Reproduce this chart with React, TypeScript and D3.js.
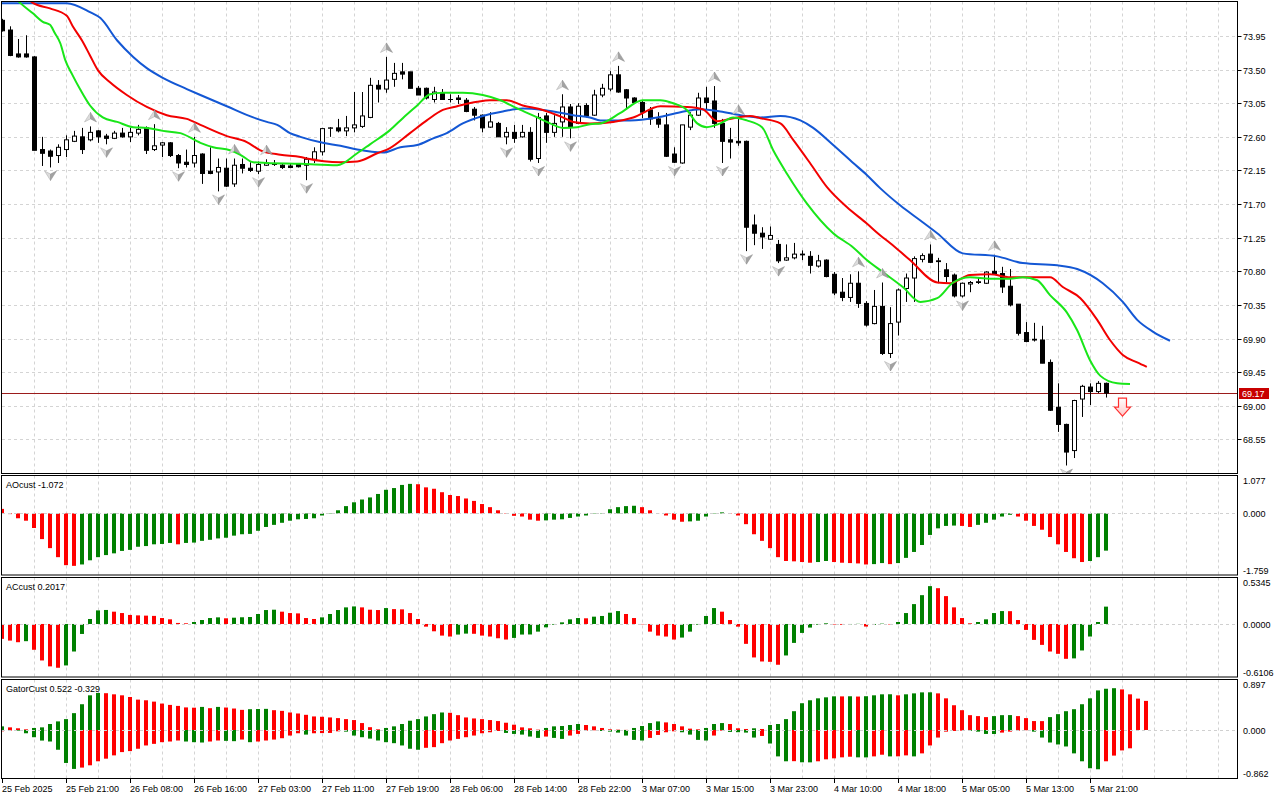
import * as d3 from 'd3';
import React from 'react';

// Bar time labels, one every 8 hourly bars.
const timeLabels = [
    '25 Feb 2025', '25 Feb 21:00', '26 Feb 08:00', '26 Feb 16:00', '27 Feb 03:00', '27 Feb 11:00',
    '27 Feb 19:00', '28 Feb 06:00', '28 Feb 14:00', '28 Feb 22:00', '3 Mar 07:00', '3 Mar 15:00',
    '3 Mar 23:00', '4 Mar 10:00', '4 Mar 18:00', '5 Mar 05:00', '5 Mar 13:00', '5 Mar 21:00',
];

const priceTicks = [73.95, 73.5, 73.05, 72.6, 72.15, 71.7, 71.25, 70.8, 70.35, 69.9, 69.45, 69.0, 68.55];

// open, high, low, close
const candles: [number, number, number, number][] = [
    [74.16, 74.18, 74.01, 74.02], [74.03, 74.08, 73.68, 73.69], [73.71, 73.91, 73.66, 73.67], [73.71, 73.96, 73.66, 73.67],
    [73.67, 73.68, 72.42, 72.42], [72.43, 72.6, 72.21, 72.38], [72.41, 72.43, 72.19, 72.34], [72.35, 72.5, 72.25, 72.46],
    [72.43, 72.62, 72.33, 72.56], [72.54, 72.68, 72.53, 72.61], [72.6, 72.72, 72.37, 72.43], [72.56, 72.74, 72.54, 72.66],
    [72.68, 72.69, 72.52, 72.6], [72.61, 72.64, 72.5, 72.58], [72.58, 72.68, 72.57, 72.65], [72.65, 72.72, 72.59, 72.6],
    [72.6, 72.72, 72.53, 72.66], [72.65, 72.76, 72.62, 72.7], [72.72, 72.74, 72.37, 72.42], [72.43, 72.77, 72.41, 72.48],
    [72.49, 72.53, 72.33, 72.52], [72.52, 72.53, 72.33, 72.35], [72.35, 72.37, 72.18, 72.25], [72.26, 72.43, 72.19, 72.23],
    [72.25, 72.6, 72.19, 72.35], [72.37, 72.38, 71.97, 72.11], [72.14, 72.46, 72.1, 72.11], [72.13, 72.31, 71.87, 72.19],
    [72.18, 72.31, 71.93, 71.94], [71.97, 72.31, 71.93, 72.22], [72.23, 72.31, 72.11, 72.18], [72.18, 72.26, 72.13, 72.15],
    [72.14, 72.27, 72.1, 72.23], [72.22, 72.3, 72.21, 72.25], [72.23, 72.29, 72.21, 72.24], [72.22, 72.25, 72.17, 72.19],
    [72.21, 72.25, 72.18, 72.19], [72.23, 72.25, 72.19, 72.2], [72.22, 72.33, 72.02, 72.3], [72.3, 72.46, 72.25, 72.4],
    [72.4, 72.72, 72.35, 72.71], [72.715, 72.73, 72.6, 72.72], [72.72, 72.84, 72.66, 72.68], [72.68, 72.88, 72.61, 72.72],
    [72.72, 73.2, 72.66, 72.76], [72.74, 73.2, 72.72, 72.88], [72.86, 73.39, 72.85, 73.29], [73.29, 73.36, 73.06, 73.24],
    [73.24, 73.67, 73.19, 73.36], [73.37, 73.59, 73.27, 73.45], [73.47, 73.59, 73.37, 73.44], [73.47, 73.47, 73.25, 73.25],
    [73.25, 73.28, 73.16, 73.16], [73.25, 73.26, 73.1, 73.12], [73.1, 73.27, 73.06, 73.2], [73.19, 73.24, 73.1, 73.1],
    [73.1, 73.17, 73.06, 73.1], [73.12, 73.16, 73.04, 73.1], [73.09, 73.12, 72.93, 72.94], [72.97, 73.0, 72.82, 72.89],
    [72.89, 72.9, 72.66, 72.72], [72.73, 72.93, 72.72, 72.8], [72.78, 72.8, 72.6, 72.6], [72.6, 72.73, 72.5, 72.66],
    [72.66, 72.76, 72.52, 72.58], [72.6, 72.76, 72.59, 72.66], [72.66, 72.73, 72.27, 72.3], [72.31, 72.92, 72.25, 72.86],
    [72.88, 72.92, 72.52, 72.66], [72.66, 72.89, 72.6, 72.78], [72.8, 73.17, 72.6, 73.0], [73.0, 73.04, 72.58, 72.73],
    [72.78, 73.05, 72.77, 73.01], [73.02, 73.05, 72.86, 72.88], [72.89, 73.23, 72.88, 73.16], [73.16, 73.31, 73.13, 73.25],
    [73.24, 73.48, 73.21, 73.43], [73.43, 73.55, 73.19, 73.2], [73.23, 73.24, 72.98, 73.12], [73.12, 73.13, 73.06, 73.06],
    [73.06, 73.09, 72.85, 72.93], [72.96, 73.0, 72.76, 72.84], [72.84, 72.93, 72.72, 72.77], [72.76, 72.92, 72.33, 72.34],
    [72.37, 72.46, 72.25, 72.26], [72.25, 72.76, 72.24, 72.76], [72.73, 72.93, 72.69, 72.89], [72.89, 73.19, 72.88, 73.12],
    [73.12, 73.27, 72.96, 73.06], [73.08, 73.28, 72.72, 72.78], [72.78, 72.84, 72.25, 72.54], [72.56, 72.72, 72.31, 72.53],
    [72.54, 72.84, 72.48, 72.52], [72.54, 72.55, 71.07, 71.39], [71.42, 71.56, 71.15, 71.31], [71.31, 71.39, 71.1, 71.26],
    [71.23, 71.4, 71.22, 71.28], [71.16, 71.22, 70.91, 70.94], [70.95, 71.16, 70.94, 70.98], [70.98, 71.18, 70.96, 71.03],
    [71.03, 71.08, 70.95, 71.02], [71.0, 71.07, 70.77, 70.88], [70.87, 71.02, 70.85, 70.94], [70.95, 70.96, 70.72, 70.73],
    [70.76, 70.79, 70.48, 70.51], [70.52, 70.71, 70.4, 70.45], [70.45, 70.76, 70.39, 70.64], [70.64, 70.8, 70.31, 70.37],
    [70.37, 70.4, 70.06, 70.08], [70.1, 70.55, 70.09, 70.33], [70.33, 70.65, 69.68, 69.7], [69.7, 70.32, 69.64, 70.1],
    [70.12, 70.57, 69.94, 70.55], [70.57, 70.77, 70.39, 70.71], [70.71, 71.0, 70.39, 70.97], [70.96, 71.04, 70.92, 71.01],
    [71.03, 71.16, 70.91, 70.92], [70.94, 70.98, 70.64, 70.93], [70.82, 70.91, 70.65, 70.73], [70.75, 70.77, 70.45, 70.47],
    [70.47, 70.65, 70.45, 70.64], [70.63, 70.67, 70.52, 70.65], [70.65, 70.72, 70.63, 70.66], [70.64, 70.8, 70.63, 70.79],
    [70.8, 71.02, 70.77, 70.77], [70.77, 70.86, 70.51, 70.59], [70.6, 70.83, 70.33, 70.35], [70.36, 70.36, 69.94, 69.97],
    [69.98, 70.12, 69.85, 69.86], [69.89, 70.11, 69.86, 69.88], [69.88, 70.07, 69.57, 69.57], [69.58, 69.62, 68.93, 68.94],
    [68.98, 69.3, 68.65, 68.75], [68.75, 68.76, 68.2, 68.38], [68.4, 69.08, 68.3, 69.07], [69.09, 69.28, 68.85, 69.26],
    [69.25, 69.3, 69.01, 69.19], [69.19, 69.33, 69.17, 69.3], [69.3, 69.31, 69.11, 69.17],
];

const fractalUp = [11, 19, 24, 29, 33, 48, 70, 77, 89, 92, 107, 110, 116, 124];
const fractalDown = [6, 13, 22, 27, 32, 38, 63, 67, 71, 84, 90, 93, 97, 111, 120, 133];

// Alligator lines as [bar, price], already shifted forward.
const jaw: [number, number][] = [
    [-0.3, 74.39], [7.3, 74.39], [8.1, 74.39], [11, 74.27], [12.3, 74.19], [14.4, 73.89], [16.4, 73.67], [18.1, 73.52],
    [20.1, 73.39], [23.1, 73.24], [24.8, 73.16], [28.1, 73.01], [31.4, 72.86], [33.1, 72.8], [34.4, 72.76], [36, 72.65],
    [37.3, 72.6], [40.1, 72.52], [42.3, 72.48], [44.4, 72.43], [47.6, 72.39], [49.8, 72.46], [51.9, 72.49], [53.9, 72.58],
    [55.6, 72.65], [57.6, 72.78], [60.1, 72.88], [62.6, 72.94], [65.1, 72.98], [67.6, 72.96], [69.4, 72.93], [71.4, 72.89],
    [73.5, 72.86], [74.8, 72.82], [78.5, 72.82], [81.9, 72.86], [84.8, 72.93], [87.3, 72.97], [89.8, 72.94], [92.3, 72.89],
    [94.8, 72.86], [97.3, 72.88], [99.8, 72.82], [101.4, 72.72], [103.9, 72.49], [106.4, 72.25], [108.1, 72.09],
    [109.8, 71.91], [112.3, 71.68], [114.8, 71.48], [116.9, 71.31], [120.1, 71.04], [124.4, 71.0], [127.6, 70.91],
    [131.9, 70.88], [134.4, 70.83], [137.6, 70.64], [140.1, 70.39], [141.9, 70.15], [143.9, 69.99], [146, 69.87],
];
const teeth: [number, number][] = [
    [2, 74.6], [3.9, 74.39], [6, 74.32], [8.1, 74.22], [8.9, 74.07], [10, 73.89], [11, 73.69], [12, 73.49], [13.5, 73.33],
    [15.6, 73.16], [18.1, 73.0], [20.6, 72.89], [23.1, 72.84], [24.8, 72.76], [28.1, 72.61], [30.6, 72.53], [32.3, 72.42],
    [34.8, 72.36], [37.3, 72.33], [38.1, 72.31], [42.3, 72.26], [44.4, 72.27], [46.9, 72.38], [48.5, 72.45], [51, 72.65],
    [53.1, 72.82], [55.1, 72.96], [56.9, 73.01], [59.4, 73.07], [61, 73.09], [63.1, 73.09], [65.1, 73.02], [67.6, 72.96],
    [70.1, 72.86], [71.4, 72.8], [73.5, 72.78], [76.4, 72.8], [78.9, 72.86], [82.3, 73.01], [85.6, 73.0], [87.6, 72.97],
    [89.4, 72.81], [91, 72.84], [93.5, 72.88], [94.8, 72.85], [97.3, 72.78], [98.9, 72.56], [101, 72.25], [103.1, 71.93],
    [105.6, 71.66], [108.1, 71.44], [109.8, 71.28], [111, 71.18], [113.5, 70.95], [116.9, 70.65], [118.5, 70.64],
    [121, 70.75], [123.5, 70.76], [126, 70.72], [131, 70.72], [132.6, 70.59], [134.8, 70.44], [136.9, 70.15],
    [138.5, 69.88], [140.1, 69.68], [141.9, 69.58], [143.1, 69.52],
];
const lips: [number, number][] = [
    [0.5, 74.6], [2.3, 74.39], [3.9, 74.25], [5.1, 74.14], [6, 74.1], [6.6, 73.99], [7.3, 73.85], [7.9, 73.63],
    [8.8, 73.43], [9.8, 73.23], [11, 73.02], [12.6, 72.86], [14.4, 72.8], [16.4, 72.73], [18.1, 72.72], [20.1, 72.68],
    [22.3, 72.65], [24.8, 72.52], [26.4, 72.46], [28.5, 72.42], [29.8, 72.36], [31.4, 72.26], [33.1, 72.25], [37.3, 72.24],
    [41.9, 72.22], [44.4, 72.38], [46, 72.5], [48.5, 72.69], [50.1, 72.85], [51.9, 73.02], [53.5, 73.17], [55.1, 73.19],
    [57.6, 73.19], [60.1, 73.16], [62.3, 73.09], [64.4, 72.98], [66.9, 72.86], [68.5, 72.78], [70.1, 72.72], [71.9, 72.73],
    [73.5, 72.77], [74.8, 72.78], [77.3, 72.92], [80.1, 73.09], [82.3, 73.09], [83.9, 73.05], [85.6, 72.96], [86.9, 72.78],
    [88.1, 72.73], [89.8, 72.78], [91.4, 72.86], [93.1, 72.82], [95, 72.73], [96.4, 72.42], [98.1, 72.11], [100.6, 71.71],
    [103.9, 71.31], [106.4, 71.12], [108.1, 70.95], [110.1, 70.79], [112.6, 70.59], [114.8, 70.39], [116.9, 70.44],
    [118.9, 70.65], [121, 70.72], [123.5, 70.7], [126, 70.7], [127.6, 70.72], [129.4, 70.68], [131, 70.48], [133.1, 70.25],
    [134.4, 70.01], [136, 69.61], [137.3, 69.4], [139.4, 69.3], [141, 69.29],
];

const aoValues = [
    0.13, -0.02, -0.14, -0.21, -0.42, -0.74, -1.0, -1.26, -1.49, -1.51,
    -1.47, -1.35, -1.26, -1.2, -1.15, -1.08, -1.05, -0.96, -0.94, -0.89,
    -0.88, -0.85, -0.89, -0.85, -0.84, -0.79, -0.76, -0.72, -0.7, -0.64,
    -0.6, -0.59, -0.5, -0.39, -0.33, -0.27, -0.21, -0.17, -0.16, -0.14,
    -0.06, -0.01, 0.09, 0.21, 0.32, 0.4, 0.46, 0.56, 0.68, 0.73,
    0.82, 0.85, 0.84, 0.75, 0.71, 0.61, 0.53, 0.5, 0.43, 0.36,
    0.27, 0.18, 0.09, 0.01, -0.07, -0.09, -0.18, -0.21, -0.2, -0.18,
    -0.17, -0.13, -0.09, -0.06, -0.01, 0.01, 0.12, 0.18, 0.21, 0.22,
    0.18, 0.09, 0.003, -0.06, -0.18, -0.24, -0.23, -0.21, -0.09, 0.01,
    0.03, 0.01, -0.06, -0.31, -0.6, -0.79, -1.0, -1.26, -1.37, -1.38,
    -1.4, -1.42, -1.4, -1.37, -1.4, -1.42, -1.43, -1.44, -1.47, -1.46,
    -1.43, -1.46, -1.43, -1.28, -1.11, -0.91, -0.62, -0.43, -0.36, -0.35,
    -0.36, -0.39, -0.33, -0.27, -0.18, -0.09, -0.04, -0.09, -0.21, -0.36,
    -0.47, -0.68, -0.89, -1.11, -1.29, -1.4, -1.37, -1.26, -1.072,
];

const acValues = [
    -0.173, -0.193, -0.212, -0.2, -0.3, -0.424, -0.493, -0.509, -0.482, -0.32,
    -0.116, 0.058, 0.158, 0.163, 0.143, 0.127, 0.105, 0.1, 0.097, 0.094,
    0.069, 0.054, 0.012, 0.008, 0.023, 0.046, 0.069, 0.077, 0.066, 0.073,
    0.078, 0.081, 0.116, 0.162, 0.166, 0.143, 0.127, 0.123, 0.069, 0.058,
    0.077, 0.116, 0.162, 0.193, 0.204, 0.193, 0.166, 0.162, 0.185, 0.173,
    0.17, 0.127, 0.058, -0.031, -0.085, -0.135, -0.146, -0.123, -0.112, -0.114,
    -0.135, -0.146, -0.166, -0.181, -0.162, -0.123, -0.122, -0.089, -0.039, -0.008,
    0.019, 0.054, 0.069, 0.066, 0.085, 0.093, 0.131, 0.15, 0.116, 0.069,
    -0.004, -0.089, -0.135, -0.146, -0.181, -0.158, -0.089, -0.008, 0.093, 0.185,
    0.143, 0.046, -0.031, -0.231, -0.389, -0.436, -0.44, -0.474, -0.366, -0.22,
    -0.104, -0.042, -0.008, 0.008, -0.006, -0.009, -0.004, 0.002, -0.03, -0.01,
    0.004, -0.005, 0.023, 0.127, 0.231, 0.335, 0.44, 0.416, 0.324, 0.193,
    0.069, 0.008, 0.023, 0.054, 0.127, 0.15, 0.149, 0.046, -0.069, -0.185,
    -0.243, -0.32, -0.347, -0.405, -0.4, -0.308, -0.146, 0.023, 0.2017,
];

const gatorUpper = [
    0.065, 0.047, 0.03, 0.012, 0.036, 0.047, 0.107, 0.154, 0.195, 0.302,
    0.462, 0.622, 0.665, 0.66, 0.64, 0.622, 0.592, 0.545, 0.533, 0.509,
    0.474, 0.45, 0.432, 0.405, 0.4, 0.414, 0.391, 0.414, 0.403, 0.385,
    0.361, 0.373, 0.376, 0.379, 0.355, 0.343, 0.314, 0.296, 0.272, 0.243,
    0.237, 0.225, 0.213, 0.195, 0.178, 0.124, 0.05, 0.012, 0.036, 0.065,
    0.107, 0.166, 0.195, 0.243, 0.284, 0.314, 0.308, 0.266, 0.225, 0.207,
    0.195, 0.178, 0.16, 0.13, 0.095, 0.047, 0.03, 0.006, 0.036, 0.065,
    0.071, 0.089, 0.107, 0.089, 0.065, 0.036, 0.012, 0.006, 0.002, 0.036,
    0.071, 0.124, 0.154, 0.136, 0.107, 0.065, 0.024, 0.012, 0.036, 0.107,
    0.124, 0.107, 0.03, 0.018, 0.03, 0.018, 0.089, 0.107, 0.195, 0.337,
    0.48, 0.533, 0.568, 0.586, 0.604, 0.603, 0.605, 0.6, 0.606, 0.622,
    0.64, 0.641, 0.622, 0.64, 0.657, 0.675, 0.676, 0.657, 0.568, 0.444,
    0.355, 0.266, 0.249, 0.231, 0.249, 0.266, 0.267, 0.249, 0.213, 0.16,
    0.159, 0.231, 0.284, 0.337, 0.373, 0.462, 0.568, 0.71, 0.74, 0.75,
    0.728, 0.64, 0.563, 0.522,
];

const gatorLower = [
    -0.024, -0.01, -0.012, -0.059, -0.13, -0.19, -0.207, -0.355, -0.592, -0.699,
    -0.675, -0.634, -0.562, -0.515, -0.456, -0.397, -0.379, -0.337, -0.278, -0.249,
    -0.219, -0.207, -0.189, -0.207, -0.219, -0.225, -0.207, -0.189, -0.195, -0.201,
    -0.172, -0.219, -0.207, -0.189, -0.172, -0.148, -0.1, -0.059, -0.083, -0.059,
    -0.056, -0.053, -0.024, -0.03, -0.1, -0.13, -0.155, -0.189, -0.219, -0.237,
    -0.278, -0.337, -0.355, -0.32, -0.308, -0.237, -0.189, -0.16, -0.13, -0.1,
    -0.059, -0.041, -0.018, -0.053, -0.071, -0.083, -0.118, -0.142, -0.118, -0.142,
    -0.16, -0.1, -0.071, -0.012, -0.006, -0.018, -0.03, -0.047, -0.1, -0.178,
    -0.189, -0.142, -0.089, -0.041, -0.024, -0.041, -0.083, -0.178, -0.189, -0.1,
    -0.012, -0.035, -0.04, -0.047, -0.136, -0.107, -0.243, -0.474, -0.562, -0.56,
    -0.58, -0.581, -0.562, -0.527, -0.509, -0.491, -0.48, -0.491, -0.492, -0.474,
    -0.444, -0.474, -0.473, -0.456, -0.474, -0.42, -0.278, -0.136, -0.03, -0.018,
    -0.012, -0.015, -0.03, -0.071, -0.072, -0.047, -0.03, -0.012, -0.004, -0.03,
    -0.136, -0.225, -0.26, -0.296, -0.42, -0.562, -0.687, -0.705, -0.562, -0.46,
    -0.367, -0.329,
];

const lastPrice = 69.17;
const sellSignalBar = 140;

const GREEN = '#008000';
const RED = '#ff0000';
const GRID = '#d4d4d4';
const RIGHT = 1237.5;

const App = (): React.ReactElement => {
    const chartRef = React.useRef<SVGSVGElement>(null);

    React.useEffect(() => {
        const svg = d3.select(chartRef.current);
        svg.selectAll('*').remove();
        svg.attr('width', 1280).attr('height', 800)
            .style('font-family', '"Liberation Sans", Arial, sans-serif')
            .style('font-size', '9px');

        svg.append('rect').attr('width', 1280).attr('height', 800).attr('fill', '#fff');

        const xScale = d3.scaleLinear().domain([0, 100]).range([2, 802]);
        const yPrice = d3.scaleLinear().domain([68.093, 74.412]).range([473.5, 1.5]);

        const panels = [
            { top: 1.5, bottom: 473.5 },
            { top: 475.5, bottom: 575, domain: [-1.759, 1.077], label: 'AOcust -1.072', ticks: ['1.077', '0.000', '-1.759'] },
            { top: 577.5, bottom: 677, domain: [-0.6106, 0.5345], label: 'ACcust 0.2017', ticks: ['0.5345', '0.0000', '-0.6106'] },
            { top: 679.5, bottom: 778.5, domain: [-0.862, 0.897], label: 'GatorCust 0.522 -0.329', ticks: ['0.897', '0.000', '-0.862'] },
        ];

        const defs = svg.append('defs');
        panels.forEach((p, k) => {
            defs.append('clipPath').attr('id', 'clip' + k).append('rect')
                .attr('x', 2).attr('y', p.top + 0.5).attr('width', RIGHT - 2.5).attr('height', p.bottom - p.top - 1);
        });
        const gradL = defs.append('linearGradient').attr('id', 'fracL').attr('x1', 0).attr('x2', 1);
        gradL.append('stop').attr('offset', '0%').attr('stop-color', '#e6e6e6');
        gradL.append('stop').attr('offset', '100%').attr('stop-color', '#b4b4b4');
        const gradS = defs.append('linearGradient').attr('id', 'sellG').attr('x1', 0).attr('x2', 0).attr('y1', 0).attr('y2', 1);
        gradS.append('stop').attr('offset', '0%').attr('stop-color', '#ffffff');
        gradS.append('stop').attr('offset', '100%').attr('stop-color', '#ffc8c8');

        // Vertical grid, every 4 bars, in every panel.
        const gridBars = d3.range(4, 153, 4);
        panels.forEach((p) => {
            svg.append('g').selectAll('line').data(gridBars).enter().append('line')
                .attr('x1', (d) => xScale(d) + 0.5).attr('x2', (d) => xScale(d) + 0.5)
                .attr('y1', p.top).attr('y2', p.bottom)
                .attr('stroke', GRID).attr('stroke-dasharray', '3,3');
        });

        // Horizontal grid on price chart.
        svg.append('g').selectAll('line').data(priceTicks).enter().append('line')
            .attr('x1', 2).attr('x2', RIGHT)
            .attr('y1', (d) => Math.round(yPrice(d)) + 0.5).attr('y2', (d) => Math.round(yPrice(d)) + 0.5)
            .attr('stroke', GRID).attr('stroke-dasharray', '3,3');

        // Price chart
        const main = svg.append('g').attr('clip-path', 'url(#clip0)');

        main.append('line').attr('x1', 2).attr('x2', RIGHT)
            .attr('y1', Math.round(yPrice(lastPrice)) + 0.5).attr('y2', Math.round(yPrice(lastPrice)) + 0.5)
            .attr('stroke', '#9b1c1c');

        main.selectAll('line.wick').data(candles).enter().append('line')
            .attr('class', 'wick')
            .attr('x1', (d, i) => xScale(i) + 0.5).attr('x2', (d, i) => xScale(i) + 0.5)
            .attr('y1', (d) => yPrice(d[1])).attr('y2', (d) => yPrice(d[2]))
            .attr('stroke', '#000');

        main.selectAll('rect.body').data(candles).enter().append('rect')
            .attr('class', 'body')
            .attr('x', (d, i) => xScale(i) - 1.5).attr('width', 4)
            .attr('y', (d) => yPrice(Math.max(d[0], d[3])))
            .attr('height', (d) => Math.max(0.01, Math.abs(yPrice(d[0]) - yPrice(d[3]))))
            .attr('fill', (d) => (d[3] >= d[0] ? '#fff' : '#000'))
            .attr('stroke', '#000');

        const line = d3.line<[number, number]>()
            .x((d) => xScale(d[0]))
            .y((d) => yPrice(d[1]))
            .curve(d3.curveMonotoneX);
        const lines: [[number, number][], string][] = [[jaw, '#1357d4'], [teeth, '#f20000'], [lips, '#19e619']];
        lines.forEach(([data, color]) => {
            main.append('path').attr('d', line(data)).attr('fill', 'none')
                .attr('stroke', color).attr('stroke-width', 2).attr('stroke-linejoin', 'round');
        });

        // Fractal markers
        const fracUp = main.selectAll('g.fu').data(fractalUp).enter().append('g')
            .attr('transform', (i) => `translate(${xScale(i) + 0.5},${yPrice(candles[i][1]) - 9})`);
        fracUp.append('path').attr('d', 'M0,-5 L-6,4.5 L0,1.5 Z').attr('fill', '#dcdcdc').attr('stroke', '#a8a8a8').attr('stroke-width', 0.5);
        fracUp.append('path').attr('d', 'M0,-5 L6,4.5 L0,1.5 Z').attr('fill', '#a2a2a2').attr('stroke', '#8e8e8e').attr('stroke-width', 0.5);

        const fracDown = main.selectAll('g.fd').data(fractalDown).enter().append('g')
            .attr('transform', (i) => `translate(${xScale(i) + 0.5},${yPrice(candles[i][2]) + 8})`);
        fracDown.append('path').attr('d', 'M0,5 L-6,-4.5 L0,-1.5 Z').attr('fill', '#dcdcdc').attr('stroke', '#a8a8a8').attr('stroke-width', 0.5);
        fracDown.append('path').attr('d', 'M0,5 L6,-4.5 L0,-1.5 Z').attr('fill', '#a2a2a2').attr('stroke', '#8e8e8e').attr('stroke-width', 0.5);

        // Sell signal arrow
        main.append('path')
            .attr('transform', `translate(${xScale(sellSignalBar) + 0.5},${yPrice(lastPrice) + 5})`)
            .attr('d', 'M-4,0 H4 V9 H8 L0,18 L-8,9 H-4 Z')
            .attr('fill', 'url(#sellG)').attr('stroke', '#ff3030').attr('stroke-width', 1.2);

        // Histogram panels
        const histo = (k: number, series: number[], firstColor: string, useAbs: boolean) => {
            const p = panels[k];
            const y = d3.scaleLinear().domain(p.domain as number[]).range([p.bottom - 0.5, p.top + 0.5]);
            const g = svg.append('g').attr('clip-path', `url(#clip${k})`);
            g.selectAll('rect').data(series).enter().append('rect')
                .attr('x', (d, i) => xScale(i) - 2).attr('width', 4)
                .attr('y', (d) => Math.min(y(0), y(d)))
                .attr('height', (d) => Math.abs(y(d) - y(0)))
                .attr('fill', (d, i) => {
                    if (i === 0) return firstColor;
                    const cur = useAbs ? Math.abs(d) : d;
                    const prev = useAbs ? Math.abs(series[i - 1]) : series[i - 1];
                    return cur > prev ? GREEN : RED;
                });
            return y;
        };
        const yAO = histo(1, aoValues, RED, false);
        const yAC = histo(2, acValues, RED, false);
        const yG = histo(3, gatorUpper, GREEN, true);
        histo(3, gatorLower, RED, true);

        [yAO, yAC, yG].forEach((y, j) => {
            const p = panels[j + 1];
            const y0 = Math.round(y(0)) + 0.5;
            svg.append('line').attr('x1', 2).attr('x2', RIGHT).attr('y1', y0).attr('y2', y0)
                .attr('stroke', '#d0d0d0').attr('stroke-dasharray', '3,3');
            svg.append('text').attr('x', 6).attr('y', p.top + 12).attr('fill', '#000').text(p.label as string);
            const ticks = p.ticks as string[];
            const ys = [p.top + 5, y0, p.bottom - 5];
            ticks.forEach((t, m) => {
                svg.append('text').attr('x', 1243).attr('y', ys[m] + 3.5).attr('fill', '#000').text(t);
            });
        });

        // Panel frames
        panels.forEach((p) => {
            svg.append('rect').attr('x', 1.5).attr('y', p.top).attr('width', RIGHT - 1.5).attr('height', p.bottom - p.top)
                .attr('fill', 'none').attr('stroke', '#000');
        });

        // Price axis
        const axisG = svg.append('g');
        priceTicks.forEach((t) => {
            const yy = Math.round(yPrice(t)) + 0.5;
            axisG.append('line').attr('x1', RIGHT).attr('x2', RIGHT + 4).attr('y1', yy).attr('y2', yy).attr('stroke', '#000');
            axisG.append('text').attr('x', 1243).attr('y', yy + 3.5).attr('fill', '#000').text(t.toFixed(2));
        });
        const yl = Math.round(yPrice(lastPrice)) + 0.5;
        axisG.append('rect').attr('x', 1239).attr('y', yl - 5.5).attr('width', 30).attr('height', 11).attr('fill', '#c80000');
        axisG.append('text').attr('x', 1242).attr('y', yl + 3.5).attr('fill', '#fff').text(lastPrice.toFixed(2));

        // Time axis
        const timeG = svg.append('g');
        timeLabels.forEach((label, k) => {
            const xx = xScale(k * 8);
            timeG.append('line').attr('x1', xx + 0.5).attr('x2', xx + 0.5).attr('y1', 778.5).attr('y2', 783)
                .attr('stroke', '#000');
            timeG.append('text').attr('x', xx).attr('y', 791.5).attr('fill', '#000').text(label);
        });
    }, []);

    return <svg ref={chartRef} style={{ position: 'absolute', left: 0, top: 0, display: 'block' }}></svg>;
};

export default App;
